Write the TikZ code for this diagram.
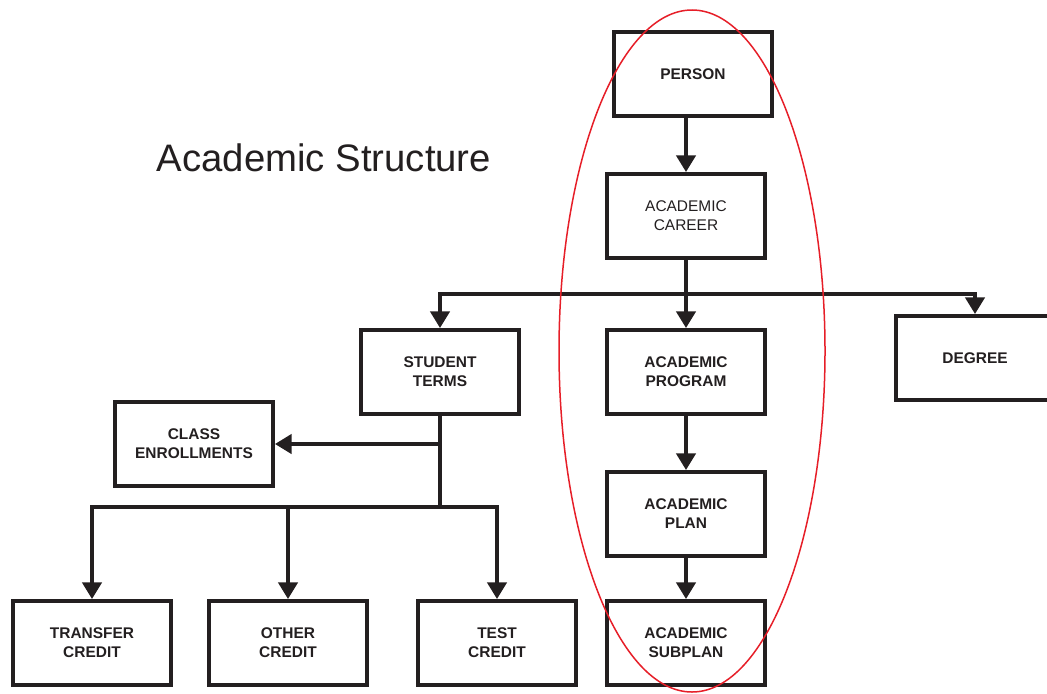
\documentclass[tikz,border=0pt]{standalone}
\usepackage{fontspec}
\setmainfont{Liberation Sans}
\usepackage{xcolor}
\usetikzlibrary{arrows.meta}
\definecolor{ink}{RGB}{35,31,32}
\definecolor{ringred}{RGB}{230,30,40}
\tikzset{>={Triangle[width=11pt,length=9.5pt]}}
\tikzset{
  unit/.style={
    draw=ink, line width=0.08cm, minimum width=3.16cm, minimum height=1.68cm,
    align=center, inner sep=2pt, font=\fontsize{8.8}{10.8}\selectfont\bfseries,
    text=ink
  },
  plain unit/.style={
    unit, font=\fontsize{8.8}{10.8}\selectfont
  },
  link/.style={
    draw=ink, line width=0.07cm
  }
}

\begin{document}
\begin{tikzpicture}[x=0.02cm,y=-0.02cm]
    \useasboundingbox (0,0) rectangle (1047,693);
    \clip (0,0) rectangle (1047,693);
    \node[font=\fontsize{21.8}{26}\selectfont,text=ink] (title) at (324,158) {Academic Structure};
    \node[unit] (person) at (693,74) {PERSON};
    \node[plain unit] (career) at (686,216) {ACADEMIC\\CAREER};
    \node[unit] (terms) at (440,372) {STUDENT\\TERMS};
    \node[unit] (program) at (686,372) {ACADEMIC\\PROGRAM};
    \node[unit] (degree) at (975,358) {DEGREE};
    \node[unit] (classes) at (194,444) {CLASS\\ENROLLMENTS};
    \node[unit] (plan) at (686,514) {ACADEMIC\\PLAN};
    \node[unit] (transfer) at (92,643) {TRANSFER\\CREDIT};
    \node[unit] (other) at (288,643) {OTHER\\CREDIT};
    \node[unit] (test) at (497,643) {TEST\\CREDIT};
    \node[unit] (subplan) at (686,643) {ACADEMIC\\SUBPLAN};
    \coordinate (split) at (686,294);
    \coordinate (fork) at (440,507);
    % career branches
    \draw[link,->] (career.north |- person.south) -- (career.north);
    \draw[link] (career.south) -- (split);
    \draw[link,->] (split) -- (program.north);
    \draw[link,->] (split) -| (terms.north);
    \draw[link,->] (split) -| (degree.north);
    \draw[link,->] (program) -- (plan);
    \draw[link,->] (plan) -- (subplan);
    % term branches
    \draw[link] (terms.south) -- (fork);
    \draw[link,->] (terms.south |- classes.east) -- (classes.east);
    \draw[link,->] (fork) -| (transfer.north);
    \draw[link,->] (fork) -| (test.north);
    \draw[link,->] (other.north |- fork) -- (other.north);
    \draw[ringred, line width=0.03cm] (692,351) ellipse [x radius=133, y radius=341];
\end{tikzpicture}
\end{document}
